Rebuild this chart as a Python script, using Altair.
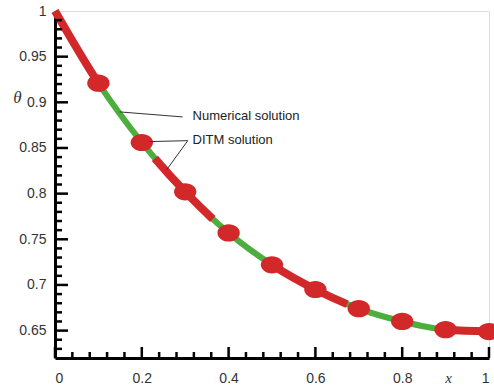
import altair as alt
import pandas as pd

# Data
x_vals = [0.0, 0.1, 0.2, 0.3, 0.4, 0.5, 0.6, 0.7, 0.8, 0.9, 1.0]
theta_numerical = [1.0, 0.921, 0.856, 0.802, 0.757, 0.722, 0.695, 0.674, 0.660, 0.651, 0.649]
x_ditm = [0.1, 0.2, 0.3, 0.4, 0.5, 0.6, 0.7, 0.8, 0.9, 1.0]
theta_ditm = [0.921, 0.856, 0.802, 0.757, 0.722, 0.695, 0.674, 0.660, 0.651, 0.649]

x_major = [0, 0.2, 0.4, 0.6, 0.8, 1.0]
x_minor = [0.04, 0.08, 0.12, 0.16, 0.24, 0.28, 0.32, 0.36, 0.44, 0.48, 0.52, 0.56,
           0.64, 0.68, 0.72, 0.76, 0.84, 0.88, 0.92, 0.96]
y_major = [0.65, 0.7, 0.75, 0.8, 0.85, 0.9, 0.95]
y_minor = [0.63, 0.64, 0.66, 0.67, 0.68, 0.69, 0.71, 0.72, 0.73, 0.74, 0.76, 0.77, 0.78,
           0.79, 0.81, 0.82, 0.83, 0.84, 0.86, 0.87, 0.88, 0.89, 0.91, 0.92, 0.93, 0.94,
           0.96, 0.97, 0.98, 0.99]

labels = ["Numerical solution", "DITM solution"]
label_x = [0.317, 0.317]
label_y = [0.885, 0.859]
leader_x = [0.149, 0.218, 0.257]
leader_y = [0.8895, 0.857, 0.826]
leader_x2 = [0.294, 0.306, 0.306]
leader_y2 = [0.884, 0.858, 0.858]

W, H = 434, 347
RED = "#d2282a"
GREEN = "#4cae3c"

xs = alt.Scale(domain=[0, 1], nice=False, zero=False)
ys = alt.Scale(domain=[0.62, 1.0], nice=False, zero=False)

curve = pd.DataFrame({"x": x_vals, "t": theta_numerical})
ditm = pd.DataFrame({"x": x_ditm, "t": theta_ditm})

base_x = alt.X("x:Q", scale=xs, axis=alt.Axis(
    values=x_major, format="~g", ticks=False, grid=False, domainWidth=3,
    domainColor="black", labelPadding=13, labelFontSize=14, labelColor="#333",
    labelFont="Liberation Sans", title="x", titleFont="Liberation Serif",
    titleFontStyle="italic", titleFontWeight="normal", titleFontSize=15,
    titleColor="#333", titleX=393, titleY=19, titleAlign="center",
    titleBaseline="middle"))
base_y = alt.Y("t:Q", scale=ys, axis=alt.Axis(
    values=[0.65, 0.7, 0.75, 0.8, 0.85, 0.9, 0.95, 1.0], format="~g", ticks=False,
    grid=False, domainWidth=3, domainColor="black", labelPadding=9,
    labelFontSize=14, labelColor="#333", labelFont="Liberation Sans",
    title="θ", titleAngle=0, titleFont="Liberation Serif", titleFontStyle="italic",
    titleFontWeight="normal", titleFontSize=17, titleColor="#333",
    titleX=-38, titleY=86, titleAlign="center", titleBaseline="middle"))

green = alt.Chart(curve).mark_line(color=GREEN, strokeWidth=6, interpolate="monotone").encode(
    x=base_x, y=base_y)
red = alt.Chart(curve).mark_line(color=RED, strokeWidth=8, interpolate="monotone",
                                 strokeDash=[92, 86, 84, 78, 82, 104, 60],
                                 strokeCap="butt").encode(
    x=alt.X("x:Q", scale=xs), y=alt.Y("t:Q", scale=ys))

ellipse = "M-1,0 A1,0.77 0 1,1 1,0 A1,0.77 0 1,1 -1,0 Z"
markers = alt.Chart(ditm).mark_point(shape=ellipse, size=500, filled=True, color=RED,
                                     opacity=1).encode(
    x=alt.X("x:Q", scale=xs), y=alt.Y("t:Q", scale=ys))

# inward ticks
yt_major = alt.Chart(pd.DataFrame({"t": y_major})).mark_rule(color="black", strokeWidth=2.5).encode(
    y=alt.Y("t:Q", scale=ys), x=alt.value(0), x2=alt.value(13))
yt_minor = alt.Chart(pd.DataFrame({"t": y_minor})).mark_rule(color="black", strokeWidth=2.5).encode(
    y=alt.Y("t:Q", scale=ys), x=alt.value(0), x2=alt.value(7))
xt_major = alt.Chart(pd.DataFrame({"x": x_major})).mark_rule(color="black", strokeWidth=2.5).encode(
    x=alt.X("x:Q", scale=xs), y=alt.value(H), y2=alt.value(H - 11))
xt_minor = alt.Chart(pd.DataFrame({"x": x_minor})).mark_rule(color="black", strokeWidth=2.5).encode(
    x=alt.X("x:Q", scale=xs), y=alt.value(H), y2=alt.value(H - 6))

leaders = alt.Chart(pd.DataFrame({"x": leader_x, "t": leader_y, "x2": leader_x2, "t2": leader_y2})).mark_rule(
    color="#333", strokeWidth=1).encode(
    x=alt.X("x:Q", scale=xs), y=alt.Y("t:Q", scale=ys), x2="x2:Q", y2="t2:Q")
texts = alt.Chart(pd.DataFrame({"x": label_x, "t": label_y, "lab": labels})).mark_text(
    align="left", baseline="middle", fontSize=13, font="Liberation Sans", color="#222").encode(
    x=alt.X("x:Q", scale=xs), y=alt.Y("t:Q", scale=ys), text="lab:N")

chart = alt.layer(green, red, markers, yt_major, yt_minor, xt_major, xt_minor, leaders, texts).properties(
    width=W, height=H, autosize="none",
    padding={"left": 55, "top": 11, "right": 5, "bottom": 29},
).configure_view(stroke="black", strokeWidth=2).configure(background="white")

chart.save("out.html", embed_options={"renderer": "svg", "actions": False})
